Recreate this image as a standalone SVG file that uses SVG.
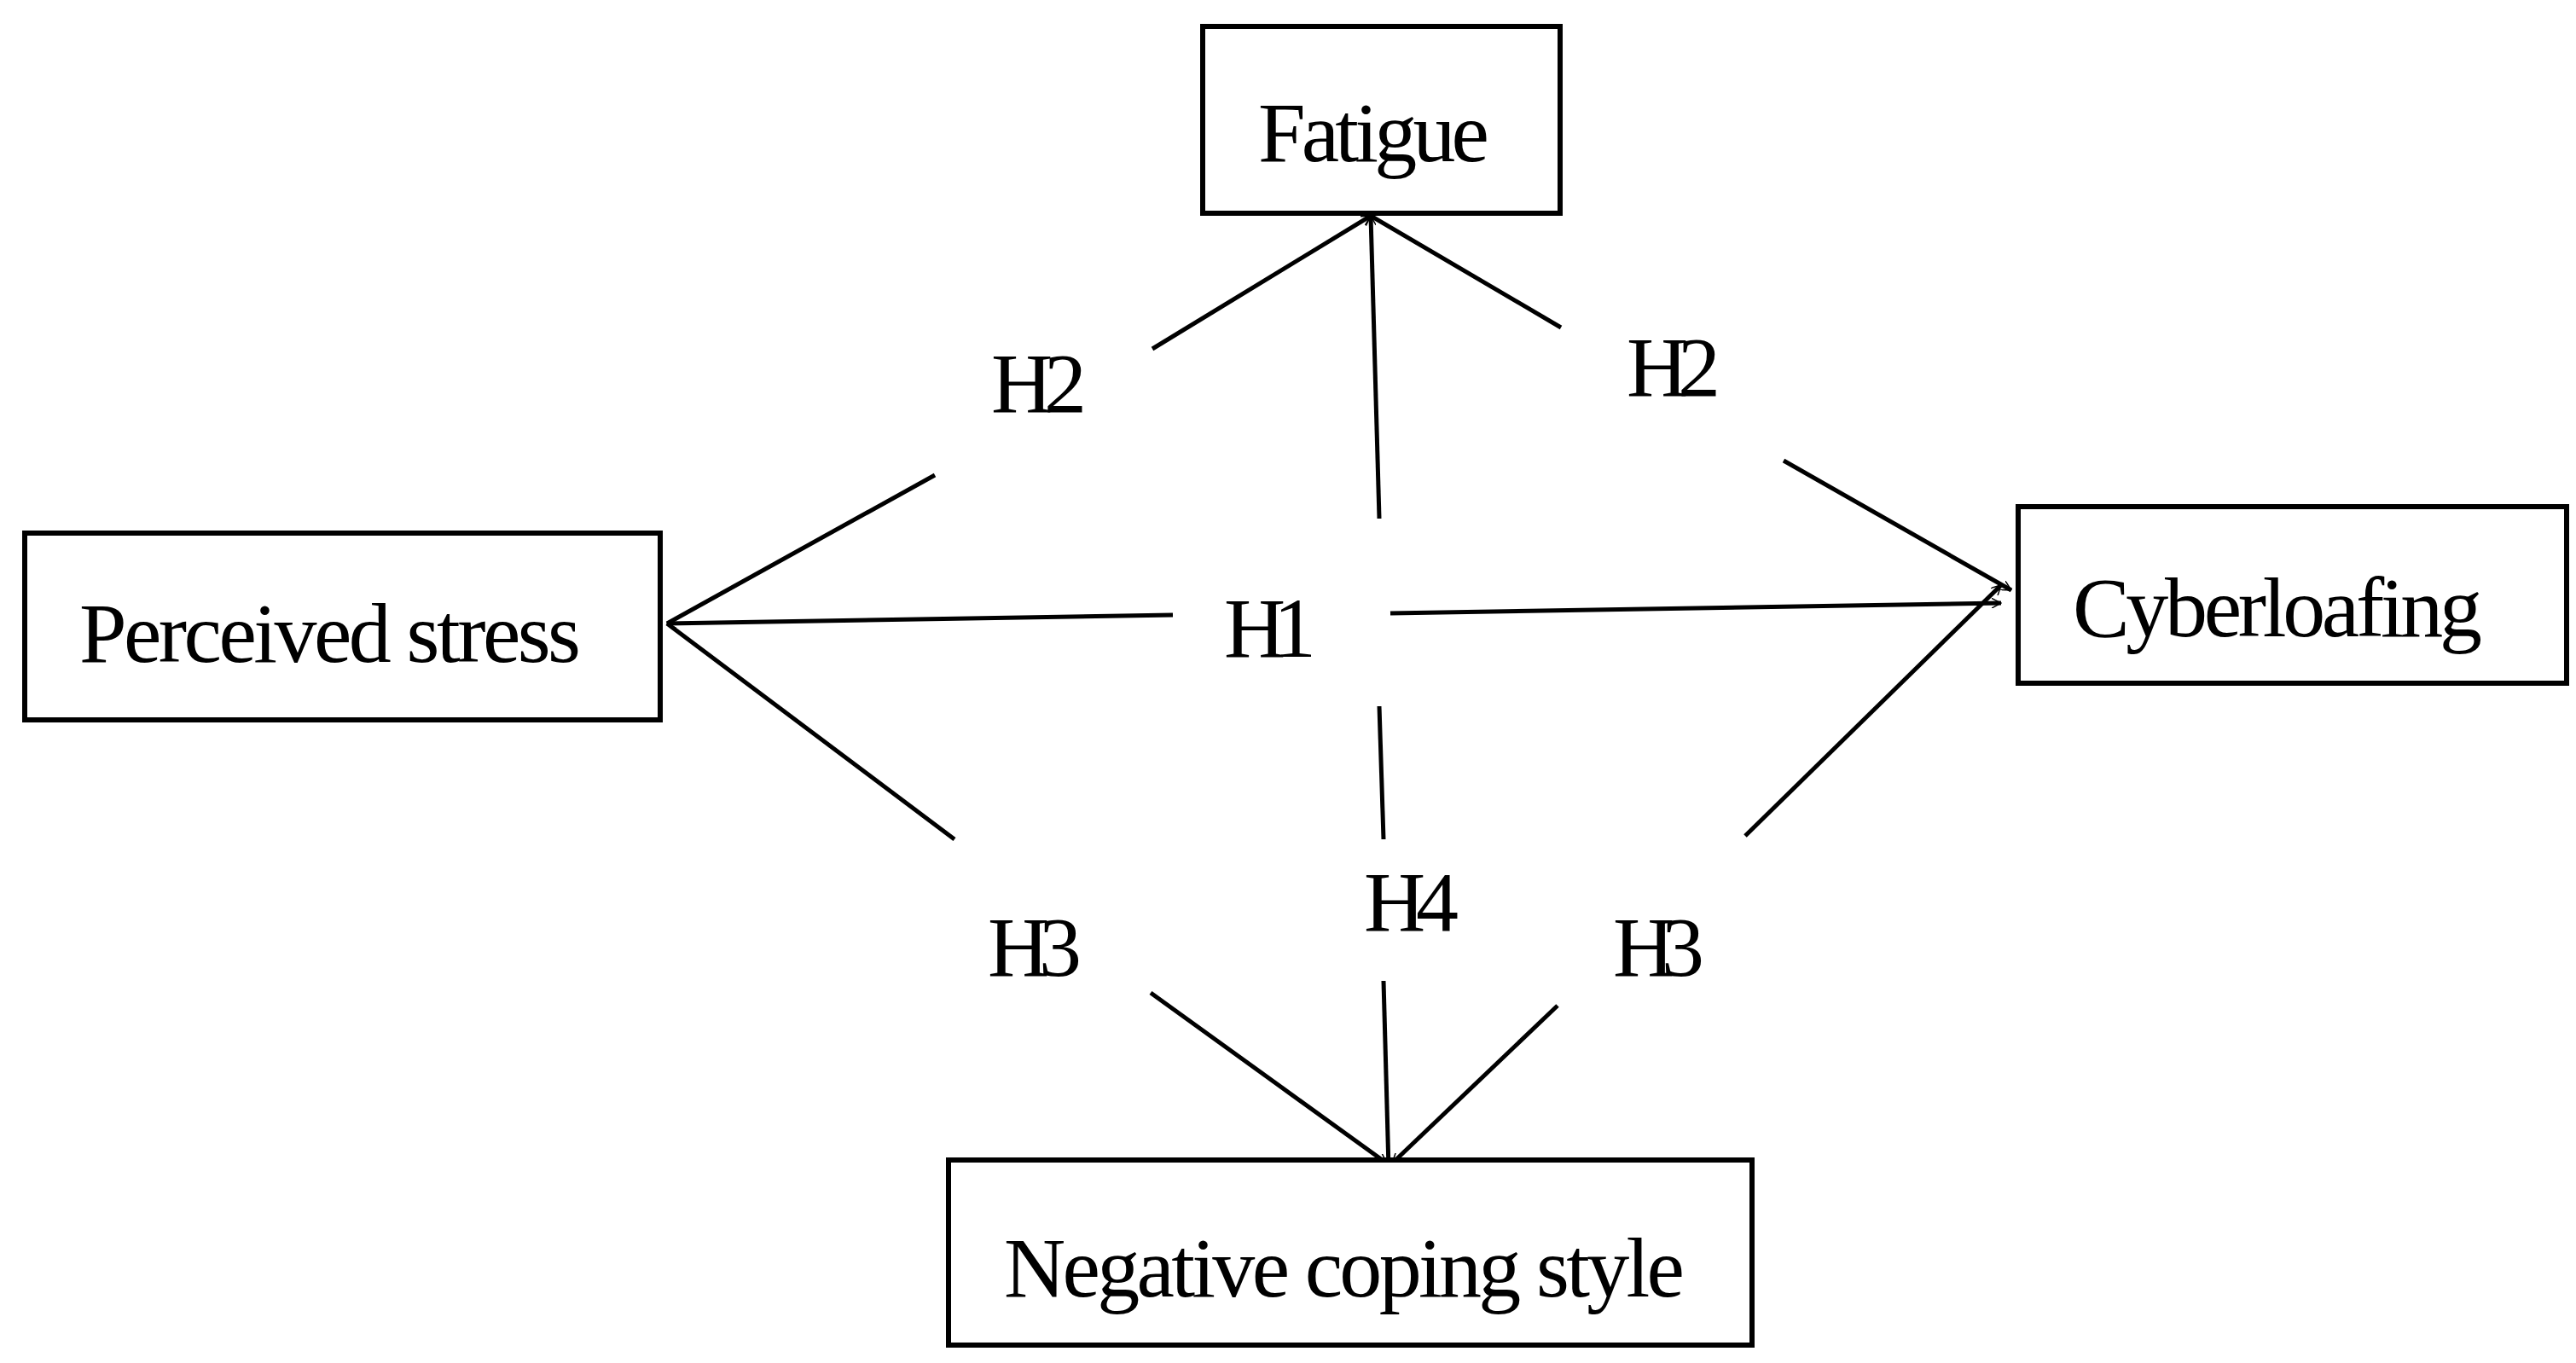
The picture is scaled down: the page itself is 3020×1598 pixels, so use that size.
<svg xmlns="http://www.w3.org/2000/svg" width="3020" height="1598" viewBox="0 0 3020 1598">
<style>
.box{fill:#fff;stroke:#000;stroke-width:6}
.t{font-family:"Liberation Serif","Times New Roman",serif;font-size:100px;fill:#000}
.c{stroke:#000;stroke-width:5;fill:none}
.a{marker-end:url(#ah)}
</style>
<defs>
<marker id="ah" viewBox="0 0 20 20" refX="19" refY="10" markerWidth="12" markerHeight="12" orient="auto" markerUnits="userSpaceOnUse">
<path d="M0,0 L19,10 L0,20" fill="none" stroke="#000" stroke-width="2.5"/>
</marker>
</defs>
<rect width="3020" height="1598" fill="#fff"/>
<g id="connectors">
<line class="c" x1="782" y1="731" x2="1096" y2="557"/>
<line class="c a" x1="1351" y1="409" x2="1607" y2="253"/>
<line class="c a" x1="1617" y1="608" x2="1607" y2="253"/>
<line class="c" x1="1607" y1="253" x2="1830" y2="384"/>
<line class="c a" x1="2091" y1="540" x2="2358" y2="692"/>
<line class="c a" x1="1375" y1="721" x2="782" y2="731"/>
<line class="c a" x1="1630" y1="719" x2="2346" y2="707"/>
<line class="c" x1="782" y1="731" x2="1119" y2="984"/>
<line class="c a" x1="1349" y1="1164" x2="1626" y2="1364"/>
<line class="c" x1="1617" y1="828" x2="1622" y2="984"/>
<line class="c a" x1="1622" y1="1150" x2="1628" y2="1370"/>
<line class="c a" x1="1826" y1="1179" x2="1632" y2="1364"/>
<line class="c a" x1="2046" y1="980" x2="2346" y2="686"/>
<text class="t" x="1162" y="483" textLength="112">H2</text>
<text class="t" x="1907" y="464" textLength="110">H2</text>
<text class="t" x="1435" y="770" textLength="108">H1</text>
<text class="t" x="1158" y="1144" textLength="110">H3</text>
<text class="t" x="1599" y="1091" textLength="111">H4</text>
<text class="t" x="1891" y="1144" textLength="107">H3</text>
</g>
<g id="fatigue"><rect class="box" x="1410" y="31" width="419" height="219"/><text class="t" x="1475" y="189" textLength="271">Fatigue</text></g>
<g id="perceived"><rect class="box" x="29" y="625" width="745" height="219"/><text class="t" x="93" y="776" textLength="588">Perceived stress</text></g>
<g id="cyber"><rect class="box" x="2366" y="594" width="643" height="207"/><text class="t" x="2430" y="746" textLength="480">Cyberloafing</text></g>
<g id="negative"><rect class="box" x="1112" y="1360" width="942" height="217"/><text class="t" x="1177" y="1520" textLength="798">Negative coping style</text></g>
</svg>
